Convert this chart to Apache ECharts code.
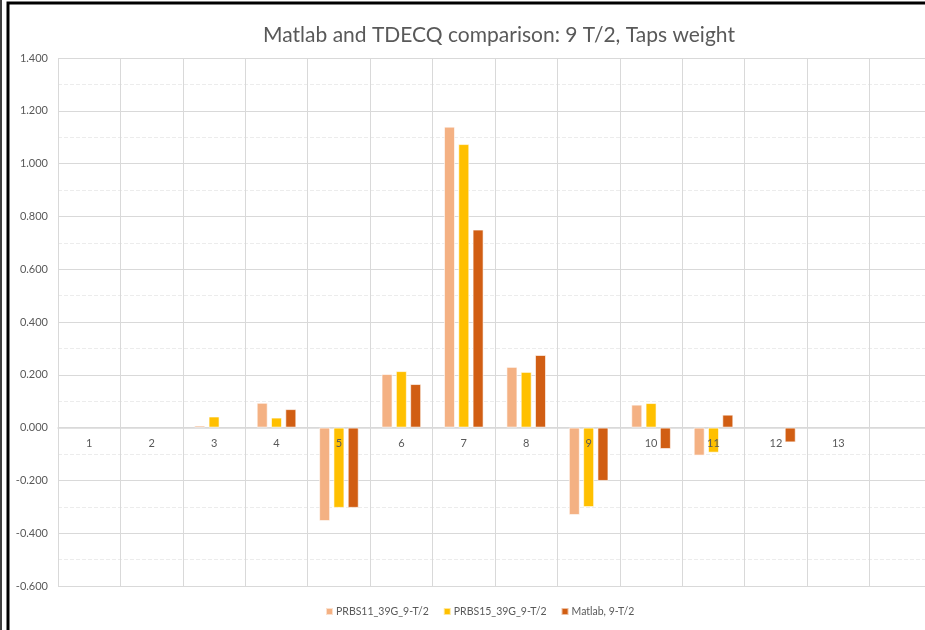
<!DOCTYPE html>
<html>
<head>
    <meta charset="utf-8">
    <title>taps weight</title>
    <style>
        html, body { margin: 0; background: #fff; overflow: hidden; }
    </style>
</head>
<body>
<!-- chart container, a bit wider than the window: the picture is cut off on the right -->
<div id="main" style="width: 990px;height:630px;"></div>

<script src="https://cdn.jsdelivr.net/npm/echarts@6/dist/echarts.min.js"></script>

<script type="text/javascript">
// categories (tap index), the last one is empty, cut off on the right
var taps = ['1', '2', '3', '4', '5', '6', '7', '8', '9', '10', '11', '12', '13', ''];

// series values
var prbs11 = [null, null, 0.008, 0.094, -0.354, 0.203, 1.140, 0.230, -0.331, 0.087, -0.106, null, null, null];
var prbs15 = [null, null, 0.042, 0.038, -0.304, 0.214, 1.074, 0.211, -0.301, 0.093, -0.095, null, null, null];
var matlab = [null, null, null, 0.070, -0.304, 0.165, 0.750, 0.275, -0.202, -0.081, 0.049, -0.056, null, null];

// names
var seriesNames = ['PRBS11_39G_9-T/2', 'PRBS15_39G_9-T/2', 'Matlab, 9-T/2'];
var colors = ['#F4B183', '#FFC000', '#D15E13'];

var fontFam = 'Lato, "Open Sans", sans-serif';
var textGrey = '#595959';

// value axis range
var yMin = -0.6, yMax = 1.4;
var gridTop = 58, gridHeight = 528;
// category axis sits on the zero line (like Excel)
var zeroOffset = -gridHeight * (0 - yMin) / (yMax - yMin);

var myChart = echarts.init(document.getElementById('main'));

function barSeries(i, data) {
    return {
        name: seriesNames[i],
        type: 'bar',
        xAxisIndex: 0,
        data: data,
        barWidth: 11,
        barGap: '30%',
        itemStyle: {
            color: colors[i],
            borderColor: 'rgba(255,255,255,0.6)',
            borderWidth: 1
        }
    };
}

var option = {
    animation: false,
    color: colors,
    title: {
        text: 'Matlab and TDECQ comparison: 9 T/2, Taps weight',
        left: 494,
        top: 20,
        textAlign: 'center',
        textStyle: {
            color: textGrey,
            fontFamily: fontFam,
            fontWeight: 'normal',
            fontSize: 21
        }
    },
    legend: {
        data: seriesNames,
        left: 320,
        top: 601,
        itemWidth: 7,
        itemHeight: 7,
        itemGap: 14,
        icon: 'rect',
        textStyle: {
            color: textGrey,
            fontFamily: fontFam,
            fontSize: 10.5,
            padding: [0, 0, 0, -2]
        }
    },
    grid: {
        left: 58,
        top: gridTop,
        width: 874,
        height: gridHeight
    },
    xAxis: [{
        // gridlines and zero line, under the bars
        type: 'category',
        data: taps,
        offset: zeroOffset,
        axisTick: { show: false },
        axisLine: {
            onZero: false,
            lineStyle: { color: '#d9d9d9', width: 1.5 }
        },
        axisLabel: { show: false },
        splitLine: {
            show: true,
            interval: 0,
            lineStyle: { color: '#d9d9d9' }
        }
    }, {
        // labels only, drawn on top of the bars
        type: 'category',
        data: taps,
        position: 'bottom',
        offset: zeroOffset,
        z: 10,
        axisTick: { show: false },
        axisLine: { show: false, onZero: false },
        splitLine: { show: false },
        axisLabel: {
            color: textGrey,
            fontFamily: fontFam,
            fontSize: 11,
            margin: 10,
            interval: 0
        }
    }],
    yAxis: {
        type: 'value',
        min: yMin,
        max: yMax,
        interval: 0.2,
        axisLine: { show: false },
        axisTick: { show: false },
        axisLabel: {
            color: textGrey,
            fontFamily: fontFam,
            fontSize: 11,
            margin: 10,
            formatter: function (v) { return v.toFixed(3); }
        },
        splitLine: {
            lineStyle: { color: '#d9d9d9' }
        },
        minorTick: { show: false, splitNumber: 2 },
        minorSplitLine: {
            show: true,
            lineStyle: { color: '#ececec', type: 'dashed' }
        }
    },
    // Excel style frame round the chart
    graphic: [{
        type: 'rect',
        shape: { x: 8, y: 3, width: 1000, height: 700 },
        style: { fill: null, stroke: '#000', lineWidth: 3 }
    }, {
        type: 'line',
        shape: { x1: 1, y1: 0, x2: 1, y2: 630 },
        style: { stroke: '#000', lineWidth: 1.5 }
    }],
    series: [
        barSeries(0, prbs11),
        barSeries(1, prbs15),
        barSeries(2, matlab)
    ]
};

myChart.setOption(option);
</script>
</body>
</html>
